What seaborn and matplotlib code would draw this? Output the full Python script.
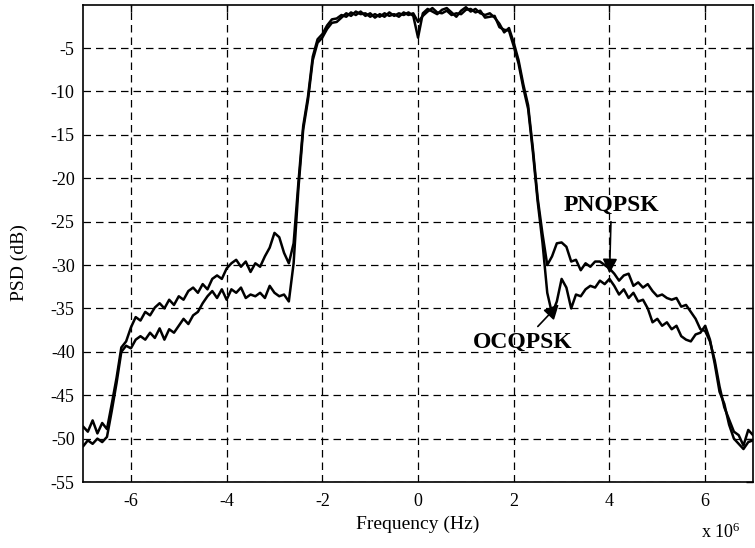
import numpy as np
import pandas as pd
import matplotlib
matplotlib.use('Agg')
import matplotlib.pyplot as plt
import seaborn as sns

# frequency grid in MHz (axis shows x 10^6)
freq_mhz = np.linspace(-7.0, 7.0, 141)

# PSD values in dB, one row per 1 MHz
psd_pnqpsk = [
    -48.6, -49.2, -47.9, -49.4, -48.2, -48.9, -46.0, -43.0, -39.5, -38.8,   # -7.0 .. -6.1
    -37.2, -36.0, -36.4, -35.4, -35.8, -34.9, -34.4, -35.0, -34.0, -34.6,   # -6.0 .. -5.1
    -33.6, -34.0, -33.0, -32.6, -33.2, -32.2, -32.8, -31.6, -31.2, -31.6,   # -5.0 .. -4.1
    -30.4, -29.8, -29.4, -30.2, -29.6, -30.8, -29.8, -30.2, -29.0, -28.0,   # -4.0 .. -3.1
    -26.3, -26.8, -28.6, -29.8, -27.5, -20.5, -14.0, -10.6, -6.0, -4.0,     # -3.0 .. -2.1
    -3.4, -2.4, -1.7, -1.6, -1.2, -1.4, -0.9, -1.2, -0.8, -1.3,             # -2.0 .. -1.1
    -1.0, -1.5, -1.1, -1.4, -0.9, -1.3, -1.0, -1.2, -0.9, -1.3,             # -1.0 .. -0.1
    -3.8, -1.0, -0.5, -0.8, -1.1, -0.6, -0.4, -0.9, -1.4, -0.7,             # 0.0 .. 0.9
    -0.3, -0.8, -0.5, -1.0, -1.2, -1.0, -1.5, -2.2, -3.2, -2.7,             # 1.0 .. 1.9
    -4.4, -6.4, -9.2, -11.6, -16.6, -22.3, -26.4, -30.0, -29.0, -27.5,      # 2.0 .. 2.9
    -27.4, -27.9, -29.6, -29.4, -30.6, -29.8, -30.2, -29.6, -29.6, -30.0,   # 3.0 .. 3.9
    -30.4, -31.0, -31.8, -31.2, -31.0, -32.4, -32.0, -32.6, -32.2, -33.0,   # 4.0 .. 4.9
    -33.6, -33.4, -33.8, -34.0, -33.8, -34.8, -34.6, -35.4, -36.2, -37.4,   # 5.0 .. 5.9
    -37.6, -38.8, -41.0, -44.0, -46.4, -47.8, -49.2, -49.6, -50.8, -49.0,   # 6.0 .. 6.9
    -49.6,                                                                  # 7.0
]
psd_ocqpsk = [
    -50.9, -50.2, -50.6, -50.0, -50.4, -49.8, -46.8, -43.6, -40.0, -39.3,
    -39.6, -38.6, -38.2, -38.6, -37.8, -38.4, -37.3, -38.6, -37.4, -37.8,
    -37.0, -36.2, -36.8, -35.8, -35.4, -34.4, -33.6, -33.0, -33.8, -32.8,
    -34.0, -32.8, -33.2, -32.6, -33.8, -33.4, -33.6, -33.2, -33.8, -32.4,
    -33.2, -33.6, -33.4, -34.2, -29.8, -21.2, -14.4, -11.0, -6.4, -4.4,
    -3.8, -2.8, -2.1, -2.0, -1.5, -1.0, -1.3, -0.8, -1.1, -1.0,
    -1.4, -1.1, -1.4, -1.0, -1.3, -1.1, -1.4, -0.9, -1.2, -1.0,
    -2.0, -1.3, -0.8, -0.4, -0.9, -1.0, -0.7, -1.2, -1.0, -1.1,
    -0.6, -0.5, -0.9, -0.7, -1.5, -1.4, -1.3, -2.6, -2.9, -3.0,
    -4.8, -6.8, -9.6, -12.0, -17.0, -22.7, -27.4, -33.2, -35.6, -34.2,
    -31.6, -32.6, -35.0, -33.4, -33.6, -32.8, -32.4, -32.6, -31.8, -32.2,
    -31.6, -32.4, -33.4, -32.8, -33.8, -33.2, -34.2, -34.0, -35.0, -36.6,
    -36.2, -37.0, -36.6, -37.4, -37.0, -38.2, -38.6, -38.8, -38.0, -37.8,
    -37.0, -38.6, -41.4, -44.6, -46.0, -48.4, -50.0, -50.6, -51.2, -50.4,
    -50.2,
]

x_ticks = [-6, -4, -2, 0, 2, 4, 6]
y_ticks = [-55, -50, -45, -40, -35, -30, -25, -20, -15, -10, -5]

df = pd.DataFrame({
    'freq': np.concatenate([freq_mhz, freq_mhz]),
    'psd': psd_pnqpsk + psd_ocqpsk,
    'scheme': ['PNQPSK'] * len(freq_mhz) + ['OCQPSK'] * len(freq_mhz),
})

sns.set_style('white')
plt.rcParams['font.family'] = ['Liberation Serif', 'DejaVu Serif']
plt.rcParams['axes.unicode_minus'] = False
plt.rcParams['mathtext.default'] = 'regular'
plt.rcParams['text.color'] = 'black'
plt.rcParams['axes.labelcolor'] = 'black'
plt.rcParams['xtick.color'] = 'black'
plt.rcParams['ytick.color'] = 'black'

fig = plt.figure(figsize=(7.55, 5.48), dpi=100)
ax = fig.add_axes([0.110, 0.1204, 0.8874, 0.8712])

sns.lineplot(data=df, x='freq', y='psd', hue='scheme', units='scheme', estimator=None,
             palette={'PNQPSK': 'black', 'OCQPSK': 'black'}, linewidth=1.8,
             legend=False, ax=ax)

ax.set_xlim(-7, 7)
ax.set_ylim(-55, 0)
ax.set_xticks(x_ticks)
ax.set_yticks(y_ticks)
ax.grid(True, color='black', linestyle=(0, (6, 4)), linewidth=0.9)
ax.set_axisbelow(True)
for s in ax.spines.values():
    s.set_color('black')
    s.set_linewidth(1.2)
ax.tick_params(direction='in', top=True, right=True, length=5, width=1, labelsize=13)
ax.tick_params(axis='x', pad=8)
ax.tick_params(axis='y', pad=6)

ax.set_xlabel('Frequency (Hz)', fontsize=14, labelpad=4)
ax.set_ylabel('PSD (dB)', fontsize=14)
ax.yaxis.set_label_coords(-0.082, 0.46)
fig.text(0.928, 0.018, r'x 10$^{6}$', fontsize=13)

ax.annotate('PNQPSK', xy=(4.0, -31.3), xytext=(4.04, -23.1), ha='center', va='center',
            fontsize=17, fontweight='bold',
            arrowprops=dict(arrowstyle='-|>', color='black', lw=1.2, mutation_scale=22))
ax.annotate('OCQPSK', xy=(2.98, -34.3), xytext=(2.19, -38.9), ha='center', va='center',
            fontsize=17, fontweight='bold',
            arrowprops=dict(arrowstyle='-|>', color='black', lw=1.2, mutation_scale=22))

fig.savefig('out.png', dpi=100)
